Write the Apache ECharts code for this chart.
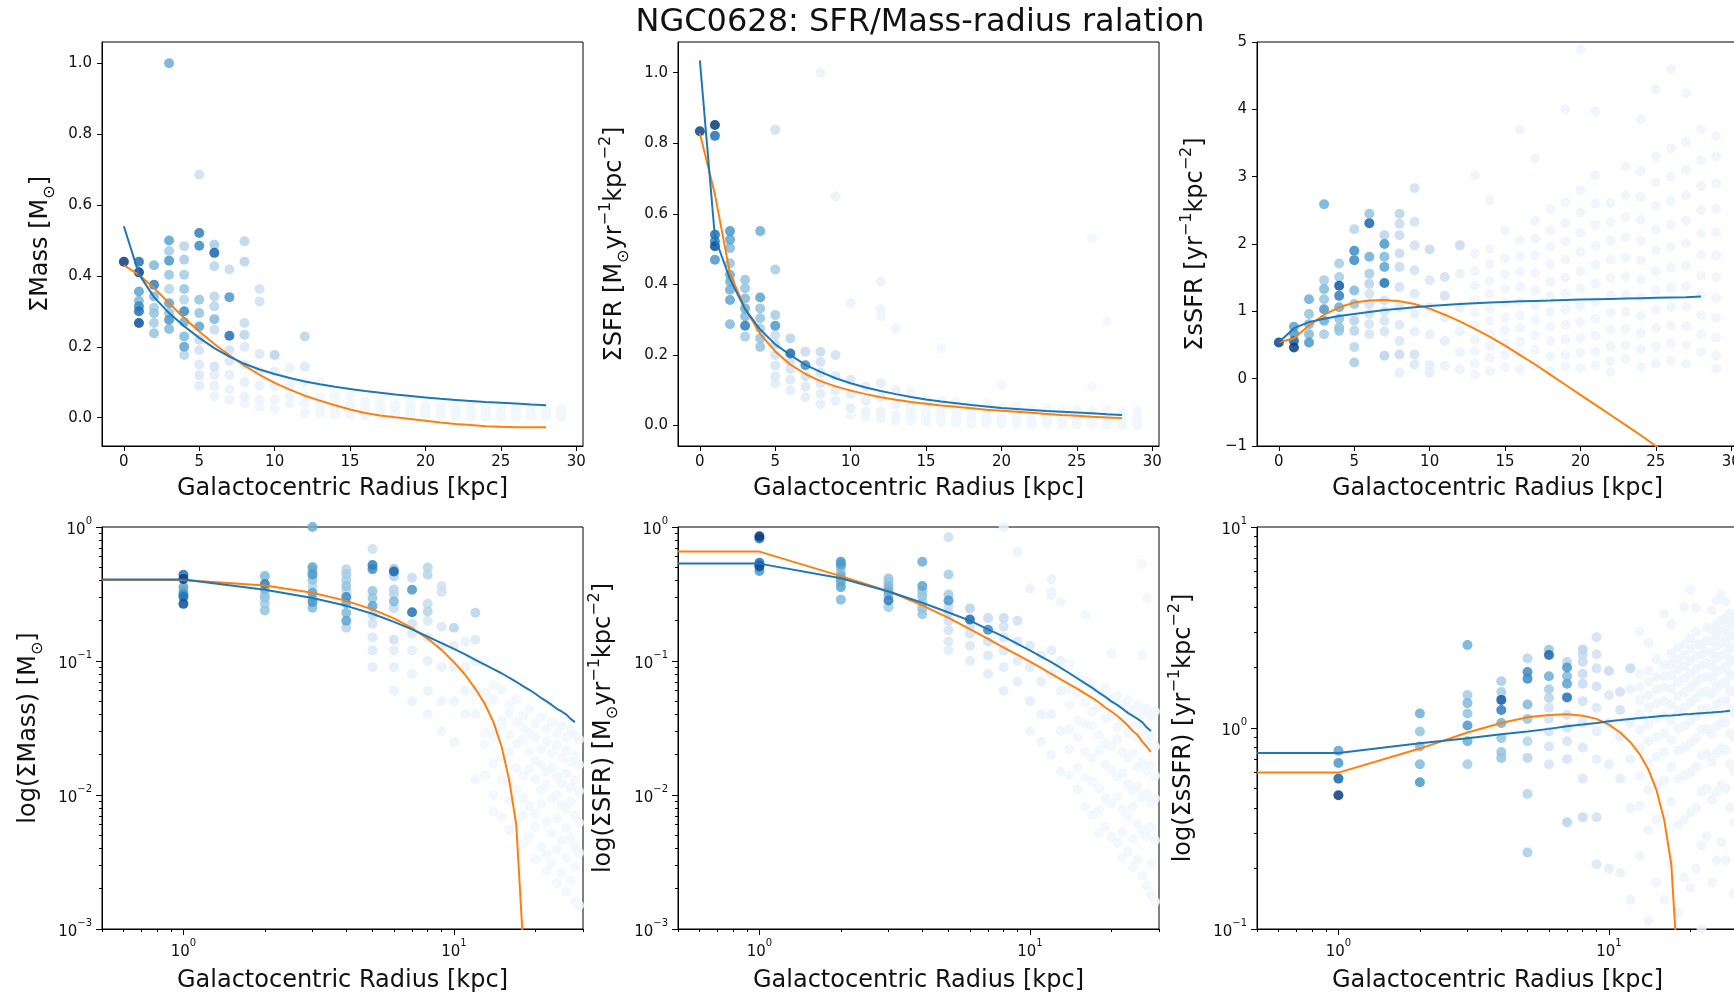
<!DOCTYPE html>
<html><head><meta charset="utf-8">
<script src="https://cdn.jsdelivr.net/npm/echarts@6/dist/echarts.min.js"></script>
<style>html,body{margin:0;padding:0;background:#fff;}#c{width:1734px;height:995px;}</style>
</head><body><div id="c"></div>
<script>
const FONT = "'DejaVu Sans', sans-serif";
const TXT = '#111';

const titleText = 'NGC0628: SFR/Mass-radius ralation';
const xTitle = 'Galactocentric Radius [kpc]';

// ---- fitted curves, sampled at integer radii ----
const fitRadius = [0,1,2,3,4,5,6,7,8,9,10,11,12,13,14,15,16,17,18,19,20,21,22,23,24,25,26,27,28];
const massFitBlue   = [0.54,0.405,0.34,0.295,0.258,0.225,0.196,0.172,0.152,0.136,0.123,0.112,0.102,0.094,0.087,0.081,0.075,0.07,0.065,0.061,0.057,0.053,0.05,0.047,0.044,0.042,0.04,0.037,0.035];
const massFitOrange = [0.43,0.403,0.366,0.323,0.281,0.243,0.208,0.176,0.147,0.121,0.098,0.079,0.062,0.048,0.035,0.023,0.013,0.006,0.0008,-0.004,-0.009,-0.014,-0.018,-0.021,-0.024,-0.026,-0.027,-0.027,-0.027];
const sfrFitBlue    = [1.035,0.533,0.415,0.33,0.272,0.23,0.2,0.172,0.152,0.134,0.12,0.108,0.098,0.089,0.081,0.074,0.068,0.063,0.058,0.054,0.05,0.047,0.044,0.041,0.039,0.037,0.035,0.032,0.03];
const sfrFitOrange  = [0.828,0.655,0.43,0.332,0.26,0.21,0.173,0.146,0.126,0.111,0.099,0.089,0.08,0.073,0.067,0.062,0.057,0.053,0.049,0.045,0.042,0.039,0.036,0.033,0.03,0.028,0.025,0.023,0.021];
const ssfrFitBlue   = [0.54,0.75,0.84,0.89,0.93,0.96,0.99,1.02,1.04,1.06,1.08,1.095,1.11,1.12,1.13,1.14,1.15,1.155,1.16,1.17,1.175,1.18,1.185,1.19,1.195,1.2,1.205,1.21,1.22];
const ssfrFitOrange = [0.54,0.6,0.79,0.95,1.06,1.13,1.16,1.17,1.15,1.11,1.04,0.95,0.85,0.74,0.62,0.49,0.35,0.21,0.06,-0.09,-0.24,-0.39,-0.54,-0.69,-0.84,-1.0,-1.16,-1.32,-1.48];

// ---- scatter points [radius, value, colour weight] ----
const massPoints = [
 [0,0.44,0.95],
 [1,0.44,0.75],[1,0.41,0.95],[1,0.356,0.55],[1,0.33,0.45],[1,0.314,0.65],[1,0.30,0.75],[1,0.267,0.88],
 [2,0.43,0.45],[2,0.375,0.7],[2,0.342,0.45],[2,0.31,0.35],[2,0.295,0.4],[2,0.267,0.35],[2,0.238,0.4],
 [3,1.0,0.5],[3,0.50,0.55],[3,0.47,0.35],[3,0.443,0.6],[3,0.403,0.4],[3,0.363,0.3],[3,0.323,0.55],[3,0.295,0.4],[3,0.276,0.6],[3,0.25,0.45],
 [4,0.484,0.3],[4,0.446,0.35],[4,0.403,0.35],[4,0.363,0.4],[4,0.333,0.3],[4,0.30,0.65],[4,0.27,0.5],[4,0.229,0.45],[4,0.20,0.55],[4,0.177,0.3],
 [5,0.686,0.22],[5,0.521,0.7],[5,0.485,0.65],[5,0.333,0.4],[5,0.295,0.4],[5,0.257,0.55],[5,0.22,0.25],[5,0.19,0.2],[5,0.15,0.15],[5,0.12,0.15],[5,0.09,0.12],
 [6,0.488,0.35],[6,0.465,0.8],[6,0.427,0.3],[6,0.342,0.3],[6,0.314,0.3],[6,0.278,0.45],[6,0.248,0.25],[6,0.144,0.2],[6,0.12,0.12],[6,0.09,0.1],[6,0.06,0.08],
 [7,0.418,0.25],[7,0.34,0.6],[7,0.231,0.75],[7,0.19,0.2],[7,0.16,0.15],[7,0.12,0.1],[7,0.08,0.08],[7,0.05,0.08],
 [8,0.498,0.3],[8,0.44,0.3],[8,0.267,0.25],[8,0.234,0.3],[8,0.2,0.15],[8,0.15,0.12],[8,0.1,0.1],[8,0.06,0.08],[8,0.04,0.06],
 [9,0.363,0.2],[9,0.328,0.2],[9,0.18,0.15],[9,0.13,0.1],[9,0.09,0.08],[9,0.05,0.06],[9,0.03,0.05],
 [10,0.177,0.3],[10,0.13,0.1],[10,0.09,0.08],[10,0.05,0.06],[10,0.025,0.05],
 [11,0.14,0.08],[11,0.09,0.07],[11,0.06,0.06],[11,0.04,0.05],
 [12,0.229,0.3],[12,0.144,0.15],[12,0.1,0.07],[12,0.06,0.06],[12,0.04,0.05],[12,0.013,0.04]
];
const massFaint = [ // [radius, weight, values]
 [13,0.035,[0.1,0.058,0.047,0.029,0.024,0.014]],
 [14,0.035,[0.066,0.052,0.031,0.027,0.017,0.01,0.0075]],
 [15,0.035,[0.061,0.036,0.033,0.019,0.013,0.0068]],
 [16,0.035,[0.047,0.041,0.028,0.021,0.0125,0.0091,0.0055]],
 [17,0.035,[0.052,0.035,0.024,0.016,0.011,0.0062]],
 [18,0.035,[0.039,0.032,0.026,0.014,0.0095,0.007,0.0043]],
 [19,0.035,[0.044,0.029,0.021,0.0155,0.0082,0.0049]],
 [20,0.035,[0.034,0.027,0.018,0.0131,0.0072,0.0058,0.0033]],
 [21,0.035,[0.038,0.022,0.0168,0.0109,0.0086,0.0041]],
 [22,0.035,[0.031,0.025,0.0148,0.0119,0.0063,0.0036,0.0027]],
 [23,0.035,[0.035,0.0205,0.0161,0.0094,0.0052,0.0031]],
 [24,0.035,[0.029,0.0233,0.0138,0.0101,0.0067,0.0039,0.0022]],
 [25,0.035,[0.033,0.0188,0.0122,0.0084,0.0046,0.0026]],
 [26,0.035,[0.027,0.0215,0.0144,0.0079,0.0057,0.0034,0.0019]],
 [27,0.035,[0.031,0.0176,0.0113,0.0089,0.0048,0.0023]],
 [28,0.035,[0.028,0.0196,0.0129,0.0071,0.0041,0.0029,0.0016]],
 [29,0.035,[0.026,0.0168,0.0107,0.0062,0.0037,0.0015]]
];

const sfrPoints = [
 [0,0.834,0.92],
 [1,0.852,0.97],[1,0.821,0.75],[1,0.541,0.75],[1,0.522,0.7],[1,0.508,0.88],[1,0.47,0.6],
 [2,0.551,0.6],[2,0.527,0.55],[2,0.503,0.45],[2,0.46,0.4],[2,0.427,0.5],[2,0.408,0.5],[2,0.385,0.5],[2,0.356,0.55],[2,0.287,0.45],
 [3,0.413,0.4],[3,0.389,0.4],[3,0.36,0.45],[3,0.332,0.5],[3,0.309,0.45],[3,0.283,0.7],[3,0.252,0.35],
 [4,0.551,0.5],[4,0.363,0.55],[4,0.332,0.4],[4,0.304,0.4],[4,0.275,0.35],[4,0.247,0.4],[4,0.223,0.4],
 [5,0.838,0.22],[5,0.442,0.35],[5,0.313,0.35],[5,0.283,0.6],[5,0.256,0.25],[5,0.23,0.25],[5,0.2,0.2],[5,0.17,0.18],[5,0.14,0.15],[5,0.12,0.12],
 [6,0.247,0.3],[6,0.204,0.78],[6,0.18,0.2],[6,0.16,0.18],[6,0.13,0.15],[6,0.1,0.12],
 [7,0.209,0.25],[7,0.171,0.65],[7,0.14,0.2],[7,0.11,0.15],[7,0.08,0.12],
 [8,1.0,0.07],[8,0.209,0.25],[8,0.18,0.2],[8,0.15,0.18],[8,0.12,0.15],[8,0.09,0.12],[8,0.06,0.1],
 [9,0.65,0.07],[9,0.2,0.2],[9,0.14,0.15],[9,0.1,0.12],[9,0.07,0.1],
 [10,0.347,0.07],[10,0.13,0.15],[10,0.09,0.12],[10,0.05,0.1],[10,0.03,0.05],
 [11,0.11,0.12],[11,0.07,0.1],[11,0.04,0.08],[11,0.025,0.05],
 [12,0.408,0.07],[12,0.33,0.06],[12,0.31,0.06],[12,0.12,0.12],[12,0.08,0.1],[12,0.04,0.08],[12,0.02,0.05],
 [13,0.275,0.06],[13,0.1,0.08],[13,0.06,0.07],[13,0.03,0.05],[13,0.015,0.04]
];
const sfrFaint = [
 [14,0.035,[0.094,0.061,0.047,0.031,0.022,0.014]],
 [15,0.035,[0.077,0.058,0.036,0.027,0.016,0.011]],
 [16,0.035,[0.22,0.071,0.049,0.034,0.021,0.0135,0.0082]],
 [17,0.035,[0.068,0.042,0.033,0.019,0.0126,0.0071]],
 [18,0.035,[0.059,0.045,0.028,0.0215,0.0112,0.0078,0.0052]],
 [19,0.035,[0.063,0.037,0.024,0.0168,0.0094,0.0058]],
 [20,0.035,[0.114,0.052,0.039,0.023,0.0152,0.0086,0.0049]],
 [21,0.035,[0.055,0.032,0.026,0.0137,0.0098,0.0044]],
 [22,0.035,[0.047,0.036,0.021,0.0145,0.0077,0.0053,0.0034]],
 [23,0.035,[0.051,0.029,0.0188,0.0121,0.0069,0.0038]],
 [24,0.035,[0.043,0.033,0.0205,0.0108,0.0082,0.0047,0.0029]],
 [25,0.035,[0.047,0.027,0.0163,0.0116,0.0061,0.0033]],
 [26,0.035,[0.53,0.11,0.041,0.03,0.0178,0.0096,0.0055,0.0025]],
 [27,0.035,[0.295,0.044,0.025,0.0152,0.0103,0.0049,0.0021]],
 [28,0.035,[0.039,0.028,0.0167,0.0088,0.0058,0.0031,0.0018]],
 [29,0.035,[0.042,0.023,0.0139,0.0094,0.0046,0.0016]]
];

const ssfrPoints = [
 [0,0.537,0.92],
 [1,0.77,0.55],[1,0.67,0.6],[1,0.56,0.8],[1,0.463,0.95],
 [2,1.18,0.5],[2,0.96,0.4],[2,0.81,0.45],[2,0.66,0.45],[2,0.537,0.6],
 [3,2.59,0.5],[3,1.46,0.35],[3,1.33,0.45],[3,1.18,0.4],[3,1.03,0.6],[3,0.86,0.5],[3,0.66,0.35],
 [4,1.71,0.35],[4,1.51,0.35],[4,1.38,0.85],[4,1.23,0.7],[4,1.06,0.5],[4,0.89,0.4],[4,0.76,0.4],[4,0.71,0.4],
 [5,2.22,0.3],[5,1.9,0.65],[5,1.76,0.65],[5,1.31,0.45],[5,1.11,0.4],[5,0.86,0.3],[5,0.71,0.3],[5,0.47,0.3],[5,0.24,0.35],
 [6,2.45,0.4],[6,2.31,0.8],[6,1.81,0.5],[6,1.56,0.35],[6,1.41,0.3],[6,1.26,0.2],[6,1.11,0.2],[6,0.96,0.18],[6,0.81,0.18],[6,0.66,0.18],
 [7,2.13,0.3],[7,2.0,0.6],[7,1.81,0.45],[7,1.66,0.55],[7,1.42,0.75],[7,1.16,0.2],[7,1.0,0.18],[7,0.86,0.18],[7,0.7,0.18],[7,0.34,0.3],
 [8,2.45,0.3],[8,2.3,0.25],[8,2.13,0.25],[8,1.86,0.25],[8,1.66,0.25],[8,1.36,0.2],[8,1.06,0.15],[8,0.8,0.15],[8,0.56,0.15],[8,0.36,0.25],[8,0.09,0.1],
 [9,2.83,0.2],[9,2.33,0.2],[9,1.98,0.2],[9,1.61,0.2],[9,1.26,0.15],[9,0.96,0.1],[9,0.7,0.1],[9,0.36,0.2],[9,0.21,0.15],
 [10,1.92,0.25],[10,1.46,0.15],[10,1.06,0.1],[10,0.66,0.1],[10,0.2,0.1],[10,0.09,0.1],
 [11,1.51,0.2],[11,1.23,0.2],[11,0.91,0.1],[11,0.56,0.1],[11,0.19,0.08],
 [12,1.98,0.25],[12,1.56,0.08],[12,1.06,0.08],[12,0.7,0.07],[12,0.4,0.07],[12,0.14,0.07]
];
const ssfrFaint = [
 [13,0.045,[3.02,1.86,1.6,1.38,1.17,0.98,0.79,0.58,0.41,0.23,0.06]],
 [14,0.045,[2.65,1.93,1.7,1.45,1.26,1.04,0.86,0.67,0.49,0.31,0.11]],
 [15,0.045,[2.2,1.79,1.55,1.33,1.12,0.9,0.72,0.52,0.35,0.17]],
 [16,0.045,[3.7,2.05,1.81,1.59,1.36,1.15,0.94,0.76,0.55,0.37,0.14]],
 [17,0.045,[3.27,2.35,2.08,1.83,1.57,1.31,1.09,0.87,0.64,0.43,0.21]],
 [18,0.045,[2.52,2.2,1.96,1.7,1.44,1.22,0.99,0.77,0.56,0.33,0.12]],
 [19,0.045,[4.0,2.62,2.31,2.04,1.77,1.5,1.27,1.03,0.8,0.58,0.35,0.18]],
 [20,0.045,[4.89,2.8,2.47,2.16,1.88,1.6,1.34,1.08,0.84,0.6,0.38,0.16]],
 [21,0.045,[3.97,3.02,2.6,2.28,1.97,1.69,1.41,1.14,0.89,0.64,0.4,0.2]],
 [22,0.045,[2.61,2.33,2.05,1.77,1.5,1.24,0.98,0.73,0.48,0.26,0.1]],
 [23,0.045,[3.15,2.72,2.4,2.1,1.8,1.52,1.25,0.99,0.74,0.5,0.29]],
 [24,0.045,[3.85,3.08,2.7,2.36,2.05,1.76,1.47,1.2,0.93,0.68,0.44,0.17]],
 [25,0.045,[4.3,3.3,2.91,2.56,2.22,1.9,1.6,1.31,1.02,0.75,0.48,0.22]],
 [26,0.045,[4.6,3.42,3.0,2.64,2.29,1.96,1.65,1.35,1.06,0.79,0.52,0.27]],
 [27,0.045,[4.24,3.52,3.1,2.72,2.35,2.01,1.68,1.37,1.07,0.78,0.5,0.22]],
 [28,0.045,[3.7,3.24,2.86,2.5,2.16,1.84,1.53,1.23,0.94,0.66,0.4]],
 [29,0.045,[3.6,3.3,2.9,2.52,2.17,1.83,1.51,1.2,0.9,0.61,0.34,0.15]]
];

// ---- tick values ----
const linXTicks = [0,5,10,15,20,25,30];
const massYTicks = [0,0.2,0.4,0.6,0.8,1.0];
const sfrYTicks = [0,0.2,0.4,0.6,0.8,1.0];
const ssfrYTicks = [-1,0,1,2,3,4,5];
const logXTicks = [1,10];
const logXMinor = [0.5,0.6,0.7,0.8,0.9,2,3,4,5,6,7,8,9,20,30];
const lowLogTicks = [0.001,0.01,0.1,1];
const lowLogMinor = [0.002,0.003,0.004,0.005,0.006,0.007,0.008,0.009,0.02,0.03,0.04,0.05,0.06,0.07,0.08,0.09,0.2,0.3,0.4,0.5,0.6,0.7,0.8,0.9];
const ssfrLogTicks = [0.1,1,10];
const ssfrLogMinor = [0.2,0.3,0.4,0.5,0.6,0.7,0.8,0.9,2,3,4,5,6,7,8,9];

const BLUES = ['#f7fbff','#deebf7','#c6dbef','#9ecae1','#6baed6','#4292c6','#2171b5','#08519c','#08306b'];
const BLUE = '#1f77b4', ORANGE = '#ff7f0e';

// ---- layout ----
const colLeft = [102, 678, 1257];
const rowTop = [42, 527];
const rowH = [404, 402];
const W = 481;

function minusFmt(v){ return v < 0 ? '\u2212' + String(-v) : String(v); }
function powLabel(v){
  const e = Math.round(Math.log10(v));
  return '{b|10}{s|' + (e < 0 ? '\u2212' + (-e) : e) + '}';
}
const powRich = {
  b: {fontFamily: FONT, fontSize: 15, color: TXT, lineHeight: 22, verticalAlign: 'bottom'},
  s: {fontFamily: FONT, fontSize: 10, color: TXT, lineHeight: 12, verticalAlign: 'top'}
};
const nameRich = {
  n: {fontFamily: FONT, fontSize: 24, color: TXT, lineHeight: 34, verticalAlign: 'middle'},
  sup: {fontFamily: FONT, fontSize: 16, color: TXT, lineHeight: 20, verticalAlign: 'top'},
  sub: {fontFamily: FONT, fontSize: 16, color: TXT, lineHeight: 20, verticalAlign: 'bottom'}
};
const axisLineStyle = {show: true, onZero: false, lineStyle: {color: '#000', width: 1}};

const grids = [];
for (let r = 0; r < 2; r++) for (let c = 0; c < 3; c++) {
  grids.push({left: colLeft[c], top: rowTop[r], width: W, height: rowH[r], show: true,
    borderColor: '#000', borderWidth: 1, backgroundColor: 'transparent', containLabel: false, outerBoundsMode: 'none'});
}

function linX(gi){
  return {type: 'value', gridIndex: gi, min: -1.45, max: 30.45, position: 'bottom',
    axisLine: axisLineStyle,
    axisTick: {show: true, length: 5, inside: false, lineStyle: {color: '#000'}, customValues: linXTicks},
    axisLabel: {show: true, customValues: linXTicks, margin: 9, fontFamily: FONT, fontSize: 15, color: TXT, formatter: v => String(v)},
    splitLine: {show: false},
    name: xTitle, nameLocation: 'middle', nameGap: 31,
    nameTextStyle: {fontFamily: FONT, fontSize: 24, color: TXT}};
}
function linY(gi, min, max, ticks, fmt, name, gap){
  return {type: 'value', gridIndex: gi, min: min, max: max, position: 'left',
    axisLine: axisLineStyle,
    axisTick: {show: true, length: 5, lineStyle: {color: '#000'}, customValues: ticks},
    axisLabel: {show: true, customValues: ticks, margin: 10, fontFamily: FONT, fontSize: 15, color: TXT, formatter: fmt},
    splitLine: {show: false},
    name: name, nameLocation: 'middle', nameRotate: 90, nameGap: gap,
    nameTextStyle: {rich: nameRich}};
}
function logX(gi){
  return {type: 'log', logBase: 10, gridIndex: gi, min: 0.5, max: 30, position: 'bottom',
    axisLine: axisLineStyle,
    axisTick: {show: true, length: 6, lineStyle: {color: '#000'}, customValues: logXTicks},
    axisLabel: {show: true, customValues: logXTicks, margin: 9, formatter: powLabel, rich: powRich},
    splitLine: {show: false},
    name: xTitle, nameLocation: 'middle', nameGap: 40,
    nameTextStyle: {fontFamily: FONT, fontSize: 24, color: TXT}};
}
function logY(gi, min, max, ticks, name, gap){
  return {type: 'log', logBase: 10, gridIndex: gi, min: min, max: max, position: 'left',
    axisLine: axisLineStyle,
    axisTick: {show: true, length: 6, lineStyle: {color: '#000'}, customValues: ticks},
    axisLabel: {show: true, customValues: ticks, margin: 10, formatter: powLabel, rich: powRich},
    splitLine: {show: false},
    name: name, nameLocation: 'middle', nameRotate: 90, nameGap: gap,
    nameTextStyle: {rich: nameRich}};
}
function minorX(gi){
  return {type: 'log', logBase: 10, gridIndex: gi, min: 0.5, max: 30, position: 'bottom', offset: 0,
    axisLine: {show: false}, axisLabel: {show: false}, splitLine: {show: false},
    axisTick: {show: true, length: 3, lineStyle: {color: '#000'}, customValues: logXMinor}};
}
function minorY(gi, min, max, minor){
  return {type: 'log', logBase: 10, gridIndex: gi, min: min, max: max, position: 'left', offset: 0,
    axisLine: {show: false}, axisLabel: {show: false}, splitLine: {show: false},
    axisTick: {show: true, length: 3, lineStyle: {color: '#000'}, customValues: minor}};
}

const fix1 = v => v.toFixed(1);
const massName = '{n|ΣMass [M}{sub|⊙}{n|]}';
const sfrName = '{n|ΣSFR [M}{sub|⊙}{n|yr}{sup|\u22121}{n|kpc}{sup|\u22122}{n|]}';
const ssfrName = '{n|ΣsSFR [yr}{sup|\u22121}{n|kpc}{sup|\u22122}{n|]}';
const massLogName = '{n|log(ΣMass) [M}{sub|⊙}{n|]}';
const sfrLogName = '{n|log(ΣSFR) [M}{sub|⊙}{n|yr}{sup|\u22121}{n|kpc}{sup|\u22122}{n|]}';
const ssfrLogName = '{n|log(ΣsSFR) [yr}{sup|\u22121}{n|kpc}{sup|\u22122}{n|]}';

const xAxes = [linX(0), linX(1), linX(2), logX(3), logX(4), logX(5), minorX(3), minorX(4), minorX(5)];
const yAxes = [
  linY(0, -0.08, 1.06, massYTicks, fix1, massName, 44),
  linY(1, -0.058, 1.087, sfrYTicks, fix1, sfrName, 46),
  linY(2, -1, 5, ssfrYTicks, minusFmt, ssfrName, 44),
  logY(3, 0.001, 1, lowLogTicks, massLogName, 56),
  logY(4, 0.001, 1, lowLogTicks, sfrLogName, 57),
  logY(5, 0.1, 10, ssfrLogTicks, ssfrLogName, 56),
  minorY(3, 0.001, 1, lowLogMinor), minorY(4, 0.001, 1, lowLogMinor), minorY(5, 0.1, 10, ssfrLogMinor)
];

function scatterData(points, faint, log){
  const out = [];
  faint.forEach(f => f[2].forEach(v => { if (!log || (f[0] > 0 && v > 0)) out.push([f[0], v, f[1]]); }));
  points.slice().sort((a, b) => a[2] - b[2]).forEach(p => { if (!log || (p[0] > 0 && p[1] > 0)) out.push([p[0], p[1], p[2]]); });
  return out;
}
function lineData(arr, log){
  if (!log) return fitRadius.map((r, i) => [r, arr[i]]);
  // log axes: the r=0 sample is clipped like matplotlib (horizontal run to the left edge),
  // non-positive values are pushed far below the visible range
  const pts = [[0.5, arr[1]]];
  fitRadius.forEach((r, i) => { if (r > 0) pts.push([r, arr[i] > 0 ? arr[i] : 1e-12]); });
  return pts;
}

const panels = [
  [massPoints, massFaint, massFitBlue, massFitOrange],
  [sfrPoints, sfrFaint, sfrFitBlue, sfrFitOrange],
  [ssfrPoints, ssfrFaint, ssfrFitBlue, ssfrFitOrange]
];
const series = [];
const scatterIdx = [];
for (let row = 0; row < 2; row++) {
  for (let c = 0; c < 3; c++) {
    const gi = row * 3 + c, log = row === 1;
    const p = panels[c];
    scatterIdx.push(series.length);
    series.push({type: 'scatter', xAxisIndex: gi, yAxisIndex: gi, symbol: 'circle', symbolSize: 10,
      data: scatterData(p[0], p[1], log), itemStyle: {opacity: 0.85}, z: 2, clip: true, silent: true});
    series.push({type: 'line', xAxisIndex: gi, yAxisIndex: gi, data: lineData(p[2], log), showSymbol: false,
      symbol: 'none', lineStyle: {color: BLUE, width: 2}, itemStyle: {color: BLUE}, z: 4, clip: true, silent: true});
    series.push({type: 'line', xAxisIndex: gi, yAxisIndex: gi, data: lineData(p[3], log), showSymbol: false,
      symbol: 'none', lineStyle: {color: ORANGE, width: 2}, itemStyle: {color: ORANGE}, z: 3, clip: true, silent: true});
  }
}

const chart = echarts.init(document.getElementById('c'), null, {renderer: 'canvas', width: 1734, height: 995});
chart.setOption({
  animation: false,
  backgroundColor: '#fff',
  title: {text: titleText, left: 915, top: 2, textAlign: 'center',
    textStyle: {fontFamily: FONT, fontSize: 32, fontWeight: 'normal', color: TXT}},
  grid: grids,
  xAxis: xAxes,
  yAxis: yAxes,
  visualMap: [{type: 'continuous', show: false, dimension: 2, min: 0, max: 1,
    seriesIndex: scatterIdx, inRange: {color: BLUES}}],
  series: series
});
</script></body></html>
